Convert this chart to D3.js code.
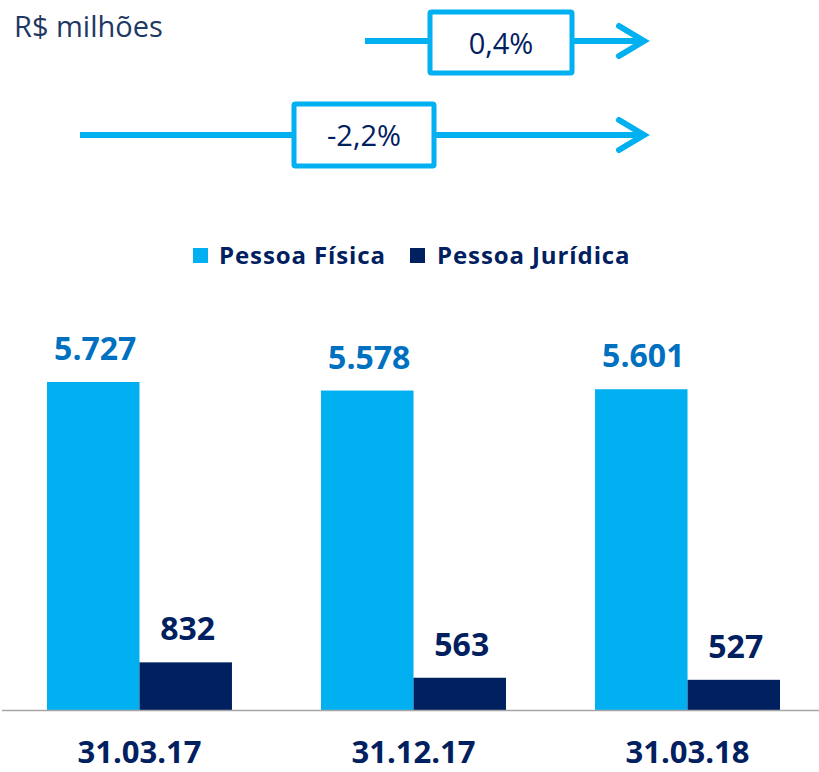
<!DOCTYPE html>
<html>
<head>
<meta charset="utf-8">
<script src="https://cdn.jsdelivr.net/npm/d3@7"></script>
<style>
  body { margin: 0; background: #fff; }
  svg { display: block; font-family: "Open Sans", Lato, sans-serif; }
</style>
</head>
<body>
<svg id="chart" width="819" height="772"></svg>
<script>
// dados
var categorias = ["31.03.17", "31.12.17", "31.03.18"];
var series = ["Pessoa Física", "Pessoa Jurídica"];
var pessoaFisica = [5727, 5578, 5601];
var pessoaJuridica = [832, 563, 527];
var variacoes = ["0,4%", "-2,2%"];
var unidade = "R$ milhões";

var corPF = "#00B0F0", corPJ = "#002060", corRotuloPF = "#0070C0";

var svg = d3.select("#chart");
var W = 819, H = 772;
var base = 710;

// escalas
var x0 = d3.scaleBand().domain(categorias).range([47, 780]).paddingInner(0.325).paddingOuter(0);
var x1 = d3.scaleBand().domain(series).range([0, x0.bandwidth()]);
var y = d3.scaleLinear().domain([0, 5727]).range([base, 382]);

var dados = categorias.map(function (c, i) {
    return { cat: c, vals: [pessoaFisica[i], pessoaJuridica[i]] };
});

function itens(d) {
    return d.vals.map(function (v, j) { return { s: series[j], v: v, j: j }; });
}

// barras
var grupos = svg.append("g").selectAll("g").data(dados).enter()
    .append("g")
    .attr("transform", function (d) { return "translate(" + x0(d.cat) + ",0)"; });

grupos.selectAll("rect").data(itens).enter()
    .append("rect")
    .attr("x", function (d) { return x1(d.s); })
    .attr("width", x1.bandwidth())
    .attr("y", function (d) { return y(d.v); })
    .attr("height", function (d) { return base - y(d.v); })
    .attr("fill", function (d) { return d.j === 0 ? corPF : corPJ; });

// rótulos de valor
grupos.selectAll("text").data(itens).enter()
    .append("text")
    .attr("x", function (d) { return x1(d.s) + x1.bandwidth() / 2 + 2; })
    .attr("y", function (d) { return y(d.v) - 22; })
    .attr("text-anchor", "middle")
    .attr("font-size", 32)
    .attr("font-weight", "bold")
    .attr("fill", function (d) { return d.j === 0 ? corRotuloPF : corPJ; })
    .text(function (d) { return d3.format(",")(d.v).replace(/,/g, "."); });

// linha de base
svg.append("line")
    .attr("x1", 2).attr("x2", W).attr("y1", base + 0.5).attr("y2", base + 0.5)
    .attr("stroke", "#a6a6a6").attr("stroke-width", 1.5);

// eixo x
var eixo = svg.append("g").attr("transform", "translate(0," + base + ")")
    .call(d3.axisBottom(x0).tickSize(0).tickPadding(0));
eixo.select(".domain").remove();
eixo.selectAll("text")
    .attr("y", 53)
    .attr("dy", 0)
    .attr("font-size", 31)
    .attr("font-weight", "bold")
    .attr("font-family", "'Open Sans', sans-serif")
    .attr("fill", corPJ);

// legenda
var legenda = [
    { nome: series[0], cor: corPF, x: 193, tx: 219 },
    { nome: series[1], cor: corPJ, x: 410, tx: 437 }
];
var lg = svg.append("g").selectAll("g").data(legenda).enter().append("g");
lg.append("rect")
    .attr("x", function (d) { return d.x; }).attr("y", 248)
    .attr("width", 15).attr("height", 15)
    .attr("fill", function (d) { return d.cor; });
lg.append("text")
    .attr("x", function (d) { return d.tx; }).attr("y", 264)
    .attr("font-size", 24).attr("font-weight", "bold")
    .attr("letter-spacing", 0.9)
    .attr("fill", corPJ)
    .text(function (d) { return d.nome; });

// unidade
svg.append("text")
    .attr("x", 14).attr("y", 37)
    .attr("font-size", 29)
    .attr("fill", "#1f3864")
    .text(unidade);

// setas de variação
var setas = [
    { txt: variacoes[0], y: 41, x1: 365, bx: 430, bw: 142, by: 12, bh: 61 },
    { txt: variacoes[1], y: 135, x1: 80, bx: 294, bw: 140, by: 104, bh: 62 }
];
var sg = svg.append("g").selectAll("g").data(setas).enter().append("g");
sg.append("line")
    .attr("x1", function (d) { return d.x1; }).attr("x2", 644)
    .attr("y1", function (d) { return d.y; }).attr("y2", function (d) { return d.y; })
    .attr("stroke", corPF).attr("stroke-width", 6);
sg.append("path")
    .attr("d", function (d) {
        return d3.line()([[619, d.y - 15], [644, d.y], [619, d.y + 15]]);
    })
    .attr("fill", "none").attr("stroke", corPF).attr("stroke-width", 6)
    .attr("stroke-linecap", "round").attr("stroke-linejoin", "miter");
sg.append("rect")
    .attr("x", function (d) { return d.bx; }).attr("y", function (d) { return d.by; })
    .attr("width", function (d) { return d.bw; }).attr("height", function (d) { return d.bh; })
    .attr("fill", "#fff").attr("stroke", corPF).attr("stroke-width", 5).attr("rx", 1.5);
sg.append("text")
    .attr("x", function (d) { return d.bx + d.bw / 2; })
    .attr("y", function (d) { return d.by + d.bh / 2 + 11; })
    .attr("text-anchor", "middle")
    .attr("font-size", 29)
    .attr("fill", corPJ)
    .text(function (d) { return d.txt; });
</script>
</body>
</html>
